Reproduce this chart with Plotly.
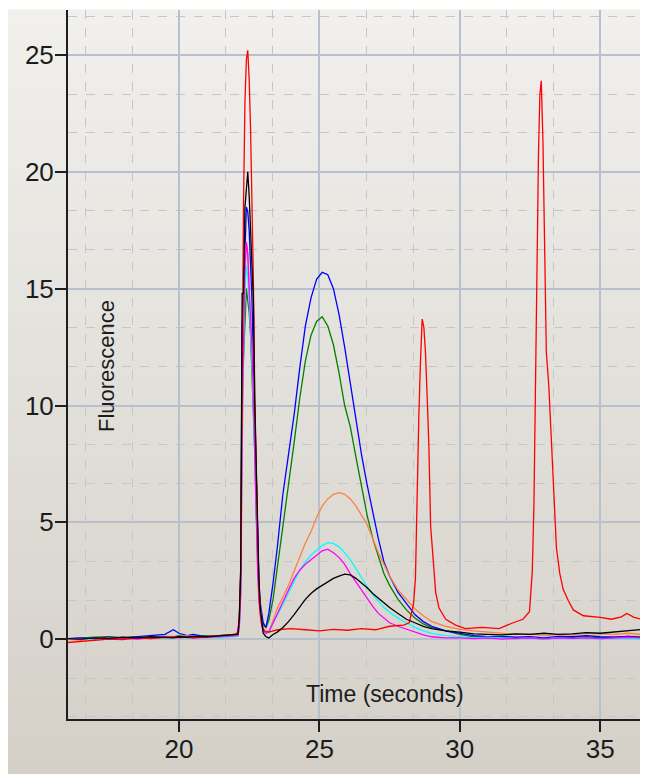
import plotly.graph_objects as go

# ---------------- data ----------------
time_s = [16.0, 16.5, 17.0, 17.5, 18.0, 18.5, 19.0, 19.5, 19.8, 20.0,
          20.3, 20.5, 21.0, 21.5, 22.0, 22.1, 22.15, 22.2, 22.25, 22.3,
          22.35, 22.4, 22.45, 22.5, 22.55, 22.6, 22.65, 22.7, 22.75, 22.8,
          22.85, 22.9, 22.95, 23.0, 23.1, 23.2, 23.35, 23.5, 23.7, 23.9,
          24.1, 24.3, 24.5, 24.7, 24.9, 25.1, 25.3, 25.5, 25.7, 25.9,
          26.1, 26.3, 26.5, 26.7, 26.9, 27.1, 27.3, 27.5, 27.8, 28.1,
          28.4, 28.7, 29.0, 29.5, 30.0, 30.5, 31.0, 31.5, 32.0, 32.5,
          33.0, 33.5, 34.0, 34.5, 35.0, 35.5, 36.0, 36.5, 36.8]

blue = [0.02, 0.05, 0.0, 0.08, 0.05, 0.1, 0.15, 0.2, 0.4, 0.25,
        0.15, 0.2, 0.1, 0.15, 0.2, 0.25, 0.8, 2.8, 13.5, 14.5,
        17.0, 18.5, 18.3, 17.5, 16.0, 14.5, 12.0, 9.5, 6.5, 4.0,
        2.3, 1.5, 1.0, 0.7, 0.5, 1.1, 2.4, 3.9, 6.2, 7.8,
        9.6, 11.6, 13.4, 14.6, 15.4, 15.7, 15.6, 15.0, 13.9, 12.5,
        10.9, 9.3, 7.9, 6.6, 5.4, 4.3, 3.3, 2.7, 2.0, 1.5,
        1.05, 0.75, 0.55, 0.35, 0.25, 0.15, 0.1, 0.12, 0.08, 0.1,
        0.05, 0.12, 0.1, 0.15, 0.1, 0.08, 0.12, 0.05, 0.1]

green = [0.0, 0.05, 0.08, 0.1, 0.05, 0.1, 0.08, 0.12, 0.1, 0.15,
         0.1, 0.12, 0.15, 0.1, 0.2, 0.25, 0.7, 2.5, 10.5, 12.0,
         14.0, 15.0, 14.5, 14.0, 13.0, 11.5, 10.0, 8.0, 5.5, 3.5,
         2.0, 1.3, 0.9, 0.6, 0.5, 0.8, 1.7, 3.0, 4.9, 6.6,
         8.4, 10.3, 11.9, 13.0, 13.6, 13.8, 13.4, 12.6, 11.4, 10.0,
         9.1, 7.8, 6.5, 5.3, 4.3, 3.5, 2.8, 2.3, 1.7, 1.25,
         0.9, 0.65, 0.5, 0.35, 0.2, 0.1, 0.05, 0.08, 0.02, 0.05,
         0.0, 0.05, 0.08, 0.1, 0.05, 0.1, 0.12, 0.1, 0.15]

orange = [0.0, -0.05, 0.05, 0.02, 0.08, 0.05, 0.1, 0.08, 0.12, 0.1,
          0.15, 0.1, 0.12, 0.15, 0.2, 0.25, 0.6, 2.0, 8.5, 13.0,
          15.5, 17.0, 16.5, 15.0, 13.5, 12.0, 10.5, 8.0, 5.5, 3.5,
          2.0, 1.2, 0.7, 0.4, 0.25, 0.3, 0.8, 1.3, 1.8, 2.3,
          2.9, 3.5, 4.1, 4.6, 5.2, 5.7, 6.0, 6.2, 6.27, 6.2,
          6.0, 5.7, 5.3, 4.9, 4.3, 3.7, 3.2, 2.7, 2.1, 1.7,
          1.3, 1.0, 0.75, 0.55, 0.42, 0.35, 0.3, 0.25, 0.2, 0.22,
          0.15, 0.2, 0.18, 0.25, 0.22, 0.2, 0.25, 0.2, 0.22]

cyan = [0.0, 0.02, -0.05, 0.05, 0.0, 0.05, 0.02, 0.08, 0.05, 0.1,
        0.05, 0.08, 0.1, 0.05, 0.12, 0.15, 0.5, 2.2, 9.0, 12.5,
        15.0, 16.0, 15.5, 14.5, 13.5, 12.0, 10.0, 7.5, 5.0, 3.2,
        1.8, 1.0, 0.6, 0.35, 0.25, 0.3, 0.7, 1.0, 1.5, 2.0,
        2.5, 2.95, 3.3, 3.6, 3.8, 4.0, 4.13, 4.1, 3.95, 3.7,
        3.4, 3.0, 2.6, 2.25, 1.9, 1.6, 1.35, 1.15, 0.9, 0.7,
        0.5, 0.35, 0.25, 0.15, 0.1, 0.05, 0.08, 0.05, 0.02, 0.05,
        0.0, 0.05, 0.02, 0.05, 0.0, 0.03, 0.05, 0.0, 0.02]

magenta = [0.02, 0.0, 0.05, 0.02, 0.05, 0.0, 0.05, 0.1, 0.08, 0.05,
           0.1, 0.05, 0.08, 0.1, 0.12, 0.15, 0.5, 2.0, 9.5, 13.0,
           16.0, 17.0, 16.5, 15.0, 14.0, 12.5, 10.5, 7.5, 5.0, 3.0,
           1.6, 0.9, 0.55, 0.35, 0.25, 0.3, 0.7, 1.1, 1.6, 2.1,
           2.6, 2.95, 3.2, 3.4, 3.6, 3.78, 3.85, 3.7, 3.5, 3.2,
           2.8, 2.45, 2.05, 1.7, 1.4, 1.1, 0.9, 0.7, 0.55, 0.42,
           0.3, 0.18, 0.1, 0.05, 0.05, 0.02, 0.05, 0.0, 0.03, 0.05,
           0.02, 0.05, 0.03, 0.05, 0.02, 0.05, 0.08, 0.05, 0.08]

black = [0.02, 0.0, 0.05, 0.03, 0.08, 0.05, 0.1, 0.08, 0.05, 0.1,
         0.08, 0.12, 0.1, 0.15, 0.18, 0.2, 0.9, 3.0, 14.8, 14.8,
         18.5, 19.2, 20.0, 19.0, 17.5, 15.3, 14.5, 10.0, 7.0, 4.5,
         2.5, 1.3, 0.6, 0.25, 0.1, 0.05, 0.2, 0.3, 0.5, 0.75,
         1.05, 1.4, 1.7, 1.95, 2.15, 2.3, 2.45, 2.6, 2.7, 2.78,
         2.75, 2.6, 2.4, 2.2, 1.95, 1.75, 1.55, 1.35, 1.1, 0.85,
         0.7, 0.55, 0.45, 0.35, 0.3, 0.22, 0.2, 0.18, 0.22, 0.2,
         0.25, 0.2, 0.22, 0.28, 0.25, 0.3, 0.35, 0.4, 0.45]

time_red = [16.0, 16.5, 17.0, 17.5, 18.0, 18.5, 19.0, 19.5, 20.0, 20.5,
            21.0, 21.5, 22.0, 22.1, 22.15, 22.2, 22.25, 22.3, 22.35, 22.4,
            22.45, 22.5, 22.55, 22.6, 22.65, 22.7, 22.75, 22.8, 22.85, 22.9,
            22.95, 23.05, 23.2, 23.5, 24.0, 24.5, 25.0, 25.5, 26.0, 26.5,
            27.0, 27.5, 28.0, 28.2, 28.35, 28.42, 28.48, 28.54, 28.6, 28.66,
            28.72, 28.78, 28.84, 28.9, 28.96, 29.02, 29.08, 29.14, 29.26, 29.5,
            29.85, 30.2, 30.8, 31.4, 31.9, 32.25, 32.48, 32.58, 32.64, 32.7,
            32.75, 32.8, 32.85, 32.9, 32.96, 33.02, 33.08, 33.17, 33.27, 33.35,
            33.44, 33.56, 33.68, 33.86, 34.04, 34.4, 35.0, 35.4, 35.75, 35.95,
            36.2, 36.8]

red = [-0.15, -0.1, -0.05, 0.0, -0.02, 0.05, 0.02, 0.08, 0.1, 0.05,
       0.1, 0.15, 0.2, 0.3, 1.0, 3.1, 13.0, 18.7, 23.0, 24.8,
       25.2, 24.0, 21.8, 18.8, 15.4, 10.4, 7.4, 4.2, 1.9, 1.0,
       0.6, 0.35, 0.3, 0.4, 0.45, 0.4, 0.35, 0.42, 0.38, 0.45,
       0.4, 0.55, 0.6, 0.7, 1.5, 2.6, 6.8, 9.5, 11.9, 13.7,
       13.35, 12.2, 10.3, 8.2, 4.85, 3.9, 2.9, 2.0, 1.33, 0.85,
       0.6, 0.45, 0.5, 0.45, 0.7, 0.85, 1.17, 2.9, 5.8, 11.9,
       16.1, 20.7, 23.3, 23.9, 21.3, 16.0, 12.3, 10.8, 8.06, 5.8,
       3.9, 2.8, 2.13, 1.65, 1.25, 1.0, 0.93, 0.85, 0.95, 1.1,
       0.93, 0.75]

x_ticks = [20, 25, 30, 35]
y_ticks = [0, 5, 10, 15, 20, 25]

# ---------------- figure ----------------
# the page has an 8px body margin, so the figure is sized/placed to compensate
W, H = 640, 766
ML, MR, MT, MB = 60, 0, 2, 55
PW, PH = W - ML - MR, H - MT - MB

fig = go.Figure()

series = [
    (time_s, green, "#008000"),
    (time_s, blue, "#0000ff"),
    (time_s, orange, "#ff8040"),
    (time_s, cyan, "#00ffff"),
    (time_s, magenta, "#ff00ff"),
    (time_red, red, "#ff0000"),
    (time_s, black, "#000000"),
]
for xs, ys, col in series:
    fig.add_trace(go.Scatter(x=xs, y=ys, mode="lines",
                             line=dict(color=col, width=1.3),
                             showlegend=False, hoverinfo="skip"))

# background gradient panel (style only)
shapes = []
n = 48
top_c = (241, 240, 237)
bot_c = (212, 208, 200)
px_top, px_bot = 2, H
for i in range(n):
    f0 = i / n
    f1 = (i + 1) / n
    p0 = px_top + (px_bot - px_top) * f0
    p1 = px_top + (px_bot - px_top) * f1
    fm = (f0 + f1) / 2
    c = tuple(round(top_c[k] + (bot_c[k] - top_c[k]) * fm) for k in range(3))
    shapes.append(dict(type="rect", xref="paper", yref="paper",
                       x0=(0 - ML) / PW, x1=1.02,
                       y0=(H - MB - p1 - 0.5) / PH, y1=(H - MB - p0 + 0.5) / PH,
                       line=dict(width=0), fillcolor="rgb(%d,%d,%d)" % c,
                       layer="below"))

tick_font = dict(family="Liberation Sans, Arial, sans-serif", size=26, color="#1c1c1c")

fig.update_layout(
    width=W, height=H,
    margin=dict(l=ML, r=MR, t=MT, b=MB, pad=0),
    paper_bgcolor="#ffffff",
    plot_bgcolor="rgba(0,0,0,0)",
    shapes=shapes,
    xaxis=dict(range=[16.05, 36.7], tickvals=x_ticks, ticktext=[str(v) for v in x_ticks],
               showgrid=True, gridcolor="#b7c1ce", gridwidth=1.5,
               zeroline=False, showline=True, linecolor="#1e1e1e", linewidth=2,
               ticks="outside", ticklen=11, tickwidth=1.5, tickcolor="#1e1e1e",
               tickfont=tick_font, automargin=False, ticklabelstandoff=-5,
               minor=dict(dtick=5 / 3, tick0=0, showgrid=True, gridcolor="#c6c6c6",
                          griddash="dash", gridwidth=1, ticklen=0)),
    yaxis=dict(range=[-3.42, 26.93], tickvals=y_ticks, ticktext=[str(v) for v in y_ticks],
               showgrid=True, gridcolor="#b7c1ce", gridwidth=1.5,
               zeroline=False, showline=True, linecolor="#1e1e1e", linewidth=2,
               ticks="outside", ticklen=11, tickwidth=1.5, tickcolor="#1e1e1e",
               tickfont=tick_font, automargin=False, ticklabelstandoff=-4,
               minor=dict(dtick=5 / 3, tick0=0, showgrid=True, gridcolor="#c6c6c6",
                          griddash="dash", gridwidth=1, ticklen=0)),
    annotations=[
        dict(text="Fluorescence", xref="paper", yref="paper",
             x=(98 - ML) / PW, y=(H - MB - 358) / PH, textangle=-90,
             showarrow=False, xanchor="center", yanchor="middle",
             font=dict(family="Liberation Sans, Arial, sans-serif", size=22, color="#1c1c1c")),
        dict(text="Time (seconds)", xref="paper", yref="paper",
             x=(377 - ML) / PW, y=(H - MB - 686) / PH,
             showarrow=False, xanchor="center", yanchor="middle",
             font=dict(family="Liberation Sans, Arial, sans-serif", size=23, color="#1c1c1c")),
    ],
)

fig.write_html("out.html")
